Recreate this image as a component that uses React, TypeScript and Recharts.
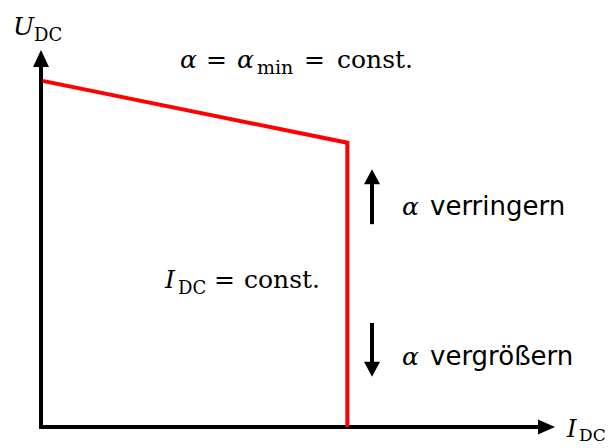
import React from 'react';
import { ComposedChart, Line, XAxis, YAxis, ReferenceLine, Customized } from 'recharts';

// characteristic curve (I_DC, U_DC) in % of axis length
const curveCurrent = [0.3, 59.6, 59.6];
const curveVoltage = [91.8, 75.4, 0];
const curveData = curveCurrent.map((x, i) => ({ x, y: curveVoltage[i] }));

const axisRange = [0, 100];
const upArrow = { x: 64.4, from: 53.8, to: 68.4 };
const downArrow = { x: 64.4, from: 27.6, to: 13.3 };

const W = 612;
const H = 448;
const MATH = '"DejaVu Serif", "Liberation Serif", serif';
const SANS = '"DejaVu Sans", "Liberation Sans", sans-serif';

const arrowShape = (head: number, half: number, width: number) => (props: any) => {
  const { x1, y1, x2, y2 } = props;
  const dx = x2 - x1;
  const dy = y2 - y1;
  const len = Math.hypot(dx, dy) || 1;
  const ux = dx / len;
  const uy = dy / len;
  const bx = x2 - ux * head;
  const by = y2 - uy * head;
  const px = -uy;
  const py = ux;
  return (
    <g>
      <line x1={x1} y1={y1} x2={bx + ux * 2} y2={by + uy * 2} stroke="#000" strokeWidth={width} />
      <polygon
        points={`${x2},${y2} ${bx + px * half},${by + py * half} ${bx - px * half},${by - py * half}`}
        fill="#000"
      />
    </g>
  );
};

const Labels = () => (
  <g fill="#000">
    <text x={13} y={35} fontFamily={MATH} fontSize={25}>
      <tspan fontStyle="italic">U</tspan>
      <tspan fontSize={18} dy={6}>DC</tspan>
    </text>
    <g fontFamily={MATH} fontSize={25}>
      <text x={180} y={68} fontStyle="italic">α</text>
      <text x={206} y={68}>=</text>
      <text x={237} y={68} fontStyle="italic">α</text>
      <text x={257} y={74} fontSize={19}>min</text>
      <text x={304} y={68}>=</text>
      <text x={337} y={68}>const.</text>
    </g>
    <g fontFamily={MATH} fontSize={25}>
      <text x={165} y={288} fontStyle="italic">I</text>
      <text x={178} y={294} fontSize={18}>DC</text>
      <text x={214} y={288}>=</text>
      <text x={244} y={288}>const.</text>
    </g>
    <g fontFamily={MATH}>
      <text x={567} y={437} fontSize={24} fontStyle="italic">I</text>
      <text x={579} y={441} fontSize={17}>DC</text>
    </g>
    <text x={402} y={215} fontFamily={MATH} fontStyle="italic" fontSize={25}>α</text>
    <text x={430} y={215} fontFamily={SANS} fontSize={26}>verringern</text>
    <text x={402} y={365} fontFamily={MATH} fontStyle="italic" fontSize={25}>α</text>
    <text x={430} y={365} fontFamily={SANS} fontSize={26}>vergrößern</text>
  </g>
);

export default function App() {
  return (
    <div style={{ position: 'fixed', left: 0, top: 0, width: W, height: H, background: '#fff' }}>
      <ComposedChart
        width={W}
        height={H}
        data={curveData}
        margin={{ top: 50, right: 57, bottom: 21, left: 41 }}
      >
        <XAxis type="number" dataKey="x" domain={axisRange} hide />
        <YAxis type="number" dataKey="y" domain={axisRange} hide />
        <ReferenceLine
          segment={[{ x: 0, y: -0.5 }, { x: 0, y: 100 }]}
          ifOverflow="visible"
          shape={arrowShape(17, 8, 4)}
        />
        <ReferenceLine
          segment={[{ x: -0.3, y: 0 }, { x: 100, y: 0 }]}
          ifOverflow="visible"
          shape={arrowShape(17, 7.5, 4)}
        />
        <ReferenceLine
          segment={[{ x: upArrow.x, y: upArrow.from }, { x: upArrow.x, y: upArrow.to }]}
          ifOverflow="visible"
          shape={arrowShape(15, 8, 4)}
        />
        <ReferenceLine
          segment={[{ x: downArrow.x, y: downArrow.from }, { x: downArrow.x, y: downArrow.to }]}
          ifOverflow="visible"
          shape={arrowShape(15, 8, 4)}
        />
        <Line
          type="linear"
          dataKey="y"
          stroke="#ff0000"
          strokeWidth={4}
          dot={false}
          isAnimationActive={false}
        />
        <Customized component={Labels} />
      </ComposedChart>
    </div>
  );
}
